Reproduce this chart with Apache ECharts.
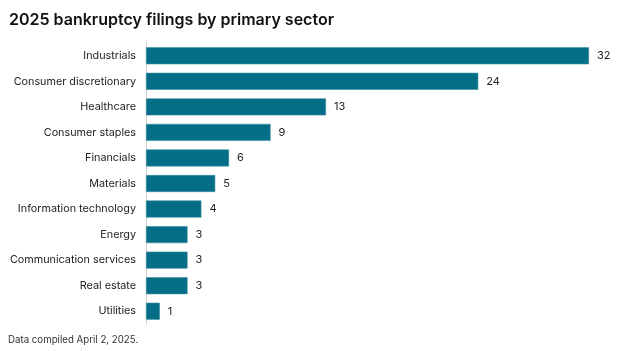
<!DOCTYPE html>
<html>
<head>
<meta charset="utf-8">
<script src="https://cdn.jsdelivr.net/npm/echarts@6/dist/echarts.min.js"></script>
<style>
  html, body { margin: 0; padding: 0; background: #fff; }
  #main { width: 623px; height: 351px; }
</style>
</head>
<body>
<div id="main"></div>
<script>
// sectors, top to bottom as in the picture
const sectors = ['Industrials', 'Consumer discretionary', 'Healthcare', 'Consumer staples',
  'Financials', 'Materials', 'Information technology', 'Energy',
  'Communication services', 'Real estate', 'Utilities'];
const filings = [32, 24, 13, 9, 6, 5, 4, 3, 3, 3, 1];

let myChart = echarts.init(document.getElementById('main'));
myChart.setOption({
  backgroundColor: '#fff',
  animation: false,
  title: {
    text: '2025 bankruptcy filings by primary sector',
    left: 4,
    top: 7,
    textStyle: { fontFamily: 'Inter', fontSize: 16, fontWeight: 600, color: '#111' }
  },
  graphic: [{
    type: 'text',
    left: 8,
    top: 335,
    style: { text: 'Data compiled April 2, 2025.', font: '9.7px Inter', fill: '#333' }
  }],
  grid: { left: 146, right: 34, top: 43, bottom: 27, containLabel: false },
  xAxis: {
    type: 'value',
    min: 0,
    max: 32,
    show: false
  },
  yAxis: {
    type: 'category',
    inverse: true,
    data: sectors,
    axisLine: { show: true, lineStyle: { color: '#d0d0d0', width: 1 } },
    axisTick: { show: false },
    axisLabel: { fontFamily: 'Inter', fontSize: 10.8, color: '#222', margin: 10 }
  },
  series: [{
    type: 'bar',
    data: filings,
    barWidth: 17,
    itemStyle: { color: '#046e86', borderColor: '#3a8ea1', borderWidth: 0.6 },
    label: {
      show: true,
      position: 'right',
      distance: 8,
      fontFamily: 'Inter',
      fontSize: 11,
      color: '#222'
    }
  }]
});
</script>
</body>
</html>
